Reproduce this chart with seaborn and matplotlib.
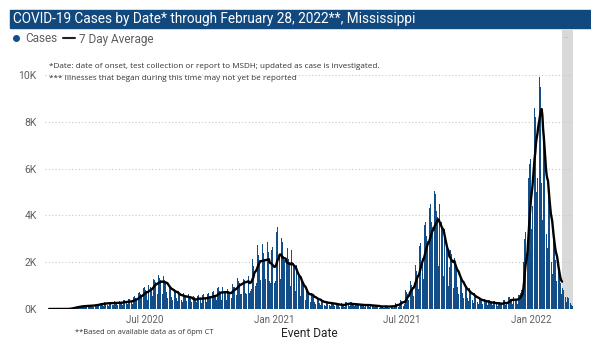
import numpy as np
import pandas as pd
import matplotlib
matplotlib.use("Agg")
import matplotlib.pyplot as plt
import matplotlib.dates as mdates
from matplotlib.lines import Line2D
from matplotlib.patches import Rectangle
import seaborn as sns

# Daily cases by event date, one row per week (Sunday .. Saturday).
# 16 Feb 2020 .. 2 Jan 2021
cases_2020 = [
    0, 0, 0, 0, 0, 0, 0,
    0, 0, 0, 0, 0, 0, 0,
    0, 0, 0, 0, 0, 0, 0,
    0, 0, 0, 1, 2, 3, 6,
    9, 18, 26, 31, 38, 44, 36,
    40, 78, 90, 86, 92, 88, 60,
    66, 132, 140, 128, 118, 124, 80,
    72, 160, 168, 150, 140, 132, 92,
    78, 176, 172, 160, 152, 146, 96,
    96, 210, 216, 190, 180, 172, 120,
    118, 262, 270, 244, 226, 218, 150,
    140, 300, 310, 270, 256, 248, 168,
    138, 318, 320, 282, 268, 262, 172,
    150, 330, 336, 292, 276, 270, 176,
    146, 300, 356, 320, 298, 282, 186,
    170, 384, 390, 340, 320, 306, 196,
    184, 420, 428, 376, 350, 336, 214,
    236, 520, 540, 480, 450, 430, 290,
    300, 690, 720, 650, 620, 590, 370,
    390, 880, 930, 860, 800, 760, 420,
    400, 1020, 1100, 1000, 950, 900, 600,
    560, 1300, 1420, 1240, 1160, 1100, 720,
    640, 1460, 1520, 1340, 1260, 1200, 780,
    620, 1400, 1480, 1260, 1200, 1140, 720,
    480, 1080, 1140, 980, 940, 880, 520,
    400, 920, 960, 840, 800, 760, 460,
    330, 740, 780, 680, 640, 610, 380,
    290, 660, 700, 610, 580, 550, 340,
    270, 620, 650, 560, 530, 500, 300,
    200, 380, 560, 500, 470, 440, 280,
    240, 560, 600, 500, 470, 440, 270,
    250, 580, 620, 520, 490, 460, 290,
    280, 640, 680, 580, 540, 500, 320,
    310, 720, 760, 640, 600, 560, 350,
    390, 900, 940, 800, 760, 700, 420,
    400, 920, 960, 820, 780, 720, 440,
    380, 860, 900, 780, 740, 690, 410,
    480, 1080, 1120, 960, 920, 860, 520,
    580, 1320, 1380, 1180, 1120, 1060, 640,
    640, 1460, 1520, 1300, 1240, 1160, 700,
    660, 1560, 1600, 1400, 700, 1180, 780,
    860, 2040, 2140, 1820, 1740, 1640, 1000,
    1120, 2600, 2720, 2320, 2200, 2080, 1240,
    1140, 2640, 2780, 2380, 2260, 2140, 1280,
    1160, 2700, 2860, 2440, 2300, 1200, 1100,
    1040, 2520, 2640, 2200, 2000, 1100, 1200,
]

# 3 Jan 2021 .. 1 Jan 2022
cases_2021 = [
    1260, 3300, 3500, 2500, 2300, 2150, 1300,
    1240, 3050, 2850, 2400, 2250, 2100, 1250,
    1100, 2100, 2600, 2300, 2150, 2000, 1200,
    1000, 2500, 2400, 2100, 1950, 1800, 1000,
    760, 1900, 1850, 1600, 1480, 1380, 800,
    540, 1300, 1280, 1120, 1040, 960, 560,
    380, 760, 700, 680, 720, 780, 460,
    280, 700, 700, 600, 560, 500, 300,
    220, 560, 560, 460, 430, 400, 240,
    160, 400, 410, 350, 330, 300, 180,
    140, 350, 350, 300, 280, 260, 160,
    130, 320, 320, 270, 260, 240, 140,
    100, 260, 260, 220, 200, 180, 100,
    90, 230, 240, 200, 190, 170, 100,
    120, 300, 310, 260, 240, 230, 130,
    110, 280, 290, 240, 230, 210, 120,
    100, 250, 260, 220, 200, 190, 110,
    90, 220, 230, 200, 180, 170, 100,
    90, 230, 230, 190, 180, 170, 90,
    80, 200, 200, 170, 160, 150, 80,
    70, 170, 180, 150, 140, 130, 70,
    50, 90, 160, 140, 130, 120, 60,
    55, 140, 140, 120, 110, 100, 60,
    60, 150, 160, 130, 120, 110, 60,
    90, 230, 240, 200, 190, 180, 100,
    150, 380, 400, 340, 320, 300, 140,
    200, 380, 800, 720, 680, 640, 380,
    460, 1140, 1200, 1040, 980, 920, 540,
    720, 1800, 1900, 1640, 1560, 1460, 860,
    1060, 2700, 2800, 2400, 2300, 2200, 1300,
    1440, 3600, 3700, 3200, 3100, 2900, 1700,
    1760, 4300, 4500, 3900, 3700, 3500, 2000,
    2000, 5050, 4900, 4400, 4200, 3950, 2300,
    1850, 4500, 4400, 3900, 3700, 3500, 2050,
    1400, 3400, 3300, 2900, 2700, 2550, 1500,
    1000, 1800, 3000, 2500, 2350, 2200, 1300,
    900, 2200, 2200, 1850, 1750, 1650, 950,
    650, 1600, 1600, 1350, 1250, 1150, 680,
    460, 1150, 1150, 960, 900, 840, 480,
    350, 880, 880, 740, 700, 640, 380,
    270, 680, 680, 570, 540, 500, 280,
    200, 520, 520, 440, 410, 380, 220,
    170, 440, 440, 370, 350, 320, 180,
    140, 370, 380, 310, 300, 280, 150,
    130, 330, 340, 280, 270, 250, 140,
    120, 300, 310, 260, 250, 230, 120,
    130, 380, 400, 340, 150, 250, 160,
    190, 500, 520, 450, 420, 400, 230,
    200, 520, 540, 460, 440, 410, 240,
    230, 600, 650, 600, 700, 800, 500,
    700, 2000, 2600, 3000, 3300, 2200, 1500,
    2600, 5600, 6000, 6200, 6400, 4800, 3400,
]

# 2 Jan 2022 .. 28 Feb 2022
cases_2022 = [
    4400, 8400, 9000, 8600, 8200, 7600, 5000,
    5600, 10200, 10400, 9900, 9500, 8800, 5400,
    3800, 6200, 8000, 7000, 6400, 5600, 3200,
    2600, 5600, 5200, 4500, 4000, 3500, 2000,
    1500, 3400, 3100, 2700, 2400, 2100, 1200,
    700, 1800, 1600, 1400, 1250, 1100, 620,
    420, 900, 800, 680, 600, 520, 300,
    220, 520, 460, 380, 320, 260, 150,
    80, 120,
]

first_day = "2020-02-16"
last_complete_day = "2022-02-13"
x_tick_dates = ["2020-07-01", "2021-01-01", "2021-07-01", "2022-01-01"]
x_tick_labels = ["Jul 2020", "Jan 2021", "Jul 2021", "Jan 2022"]
y_ticks = [0, 2000, 4000, 6000, 8000, 10000]
y_tick_labels = ["0K", "2K", "4K", "6K", "8K", "10K"]

cases = cases_2020 + cases_2021 + cases_2022
df = pd.DataFrame({
    "date": pd.date_range(first_day, periods=len(cases), freq="D"),
    "cases": cases,
})
df["avg7"] = df["cases"].rolling(7, min_periods=1).mean()
df["x"] = mdates.date2num(df["date"])
line_df = df[df["date"] <= pd.Timestamp(last_complete_day)]

sns.set_theme(style="white")
plt.rcParams["font.family"] = ["Roboto", "DejaVu Sans"]

W, H = 591, 349
fig = plt.figure(figsize=(W / 100, H / 100), dpi=100)


def px_box(left, top, right, bottom):
    return [left / W, 1 - bottom / H, (right - left) / W, (bottom - top) / H]


BLUE = "#124e89"
GREY_TEXT = "#605e5c"

# title banner
fig.patches.append(Rectangle((10 / W, 1 - 28 / H), (W - 10) / W, 17.5 / H,
                             transform=fig.transFigure, color="#11497f", zorder=0))
fig.text(13 / W, 1 - 19.5 / H,
         "COVID-19 Cases by Date* through February 28, 2022**, Mississippi",
         color="white", fontsize=9.85, va="center", ha="left")

ax = fig.add_axes(px_box(45, 30, 573, 309))

x_left = mdates.date2num(pd.Timestamp("2020-07-01")) - 141.8
x_right = mdates.date2num(pd.Timestamp("2022-02-28")) + 0.5
gray_start = mdates.date2num(pd.Timestamp(last_complete_day)) + 0.5

# recent days still being investigated
ax.axvspan(gray_start, x_right, color="#d9d9d9", lw=0, zorder=0)

sns.histplot(x=df["x"], weights=df["cases"], discrete=True, shrink=0.85,
             color=BLUE, alpha=1, linewidth=0, ax=ax, zorder=2)
sns.lineplot(data=line_df, x="x", y="avg7", color="black", lw=1.7, ax=ax, zorder=3)

ax.set_xlim(x_left, x_right)
ax.set_ylim(0, 11920)
ax.set_yticks(y_ticks)
ax.set_yticklabels(y_tick_labels)
ax.set_xticks(mdates.date2num(pd.to_datetime(x_tick_dates)))
ax.set_xticklabels(x_tick_labels)
ax.yaxis.grid(True, linestyle=(0, (1, 2)), color="#c8c8c8", lw=0.8, zorder=1)
ax.xaxis.grid(False)
ax.set_axisbelow(True)
for s in ax.spines.values():
    s.set_visible(False)
ax.tick_params(axis="y", length=0, pad=6, labelsize=7.5, labelcolor=GREY_TEXT)
ax.tick_params(axis="x", length=0, pad=4, labelsize=7, labelcolor=GREY_TEXT)
ax.set_ylabel("")
ax.set_xlabel("Event Date", fontsize=8.6, color="#252423", labelpad=2)

# legend
handles = [
    Line2D([], [], marker="o", ls="", color=BLUE, markersize=4, label="Cases"),
    Line2D([], [], color="#222222", lw=1.5, label="7 Day Average"),
]
fig.legend(handles=handles, loc="center left", bbox_to_anchor=(10 / W, 1 - 39 / H),
           ncol=2, frameon=False, fontsize=8.5, labelcolor=GREY_TEXT,
           handlelength=1.0, handletextpad=0.3, columnspacing=0.5, borderpad=0,
           borderaxespad=0)

fig.text(566 / W, 1 - 36 / H, "...", color="#999999", fontsize=5, ha="center", va="center")

# notes
note_font = ["Open Sans", "DejaVu Sans"]
fig.text(49 / W, 1 - 66 / H,
         "*Date: date of onset, test collection or report to MSDH; updated as case is investigated.",
         fontsize=5.85, color="#333333", family=note_font, va="center", ha="left")
fig.text(49 / W, 1 - 78 / H,
         "*** Illnesses that began during this time may not yet be reported",
         fontsize=5.85, color="#333333", family=note_font, va="center", ha="left")
fig.text(75 / W, 1 - 333 / H, "**Based on available data as of 6pm CT",
         fontsize=5.4, color="#333333", family=note_font, va="center", ha="left")

fig.savefig("out.png", dpi=100)
